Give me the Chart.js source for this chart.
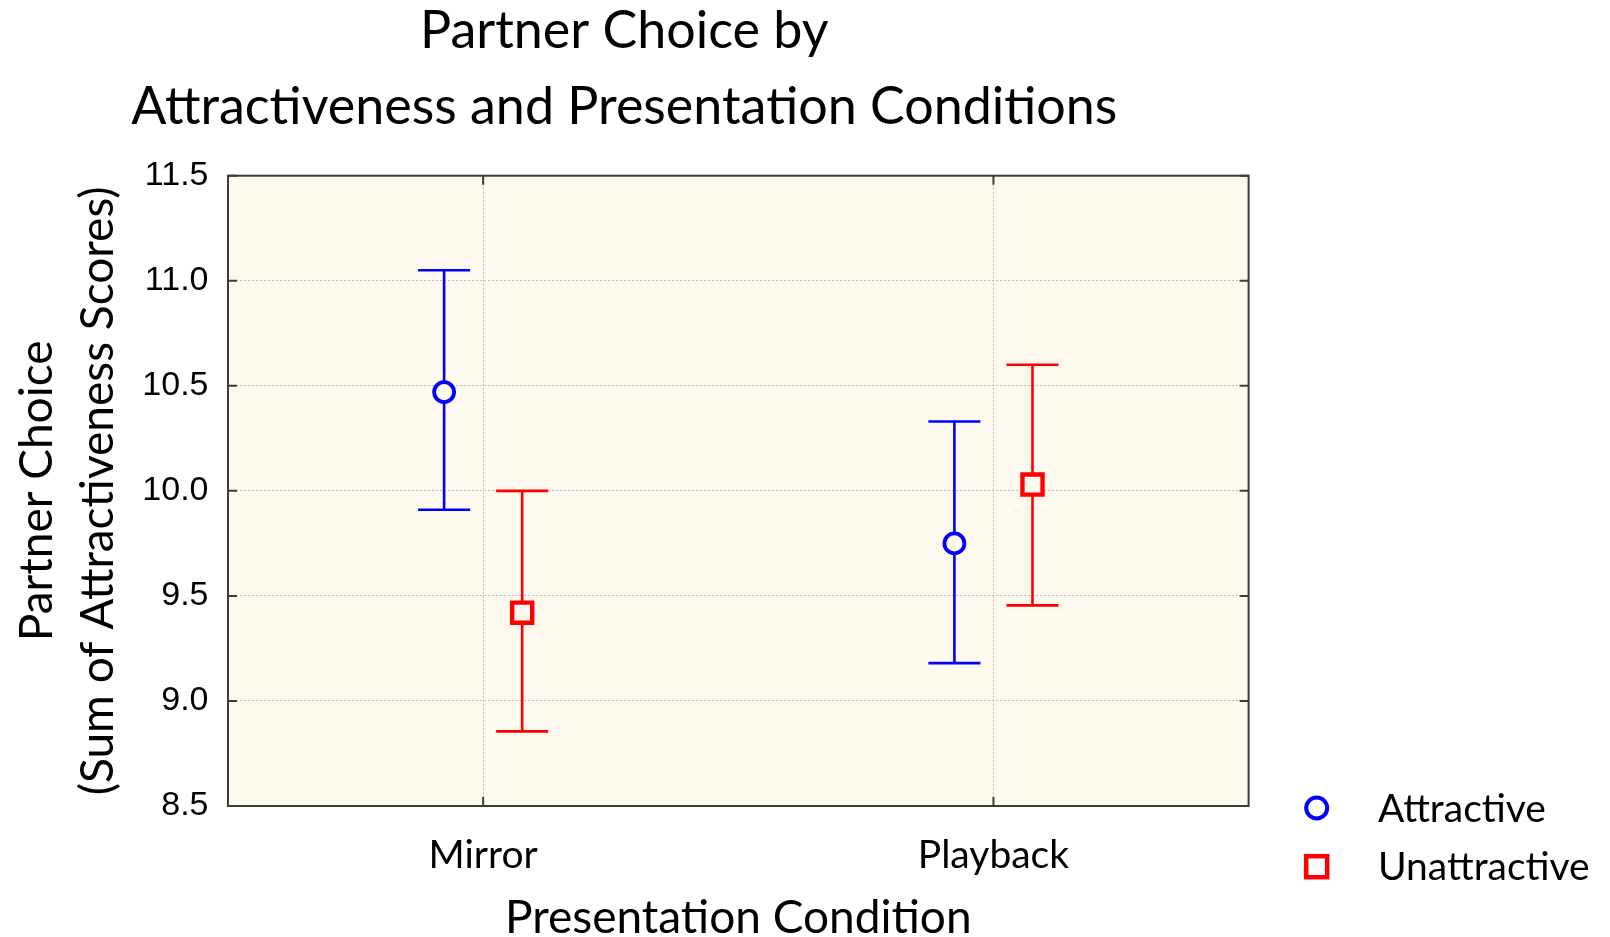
<!DOCTYPE html>
<html>
<head>
<meta charset="utf-8">
<script src="https://cdn.jsdelivr.net/npm/chart.js@4.4.1/dist/chart.umd.min.js"></script>
<style>
html,body{margin:0;padding:0;background:#ffffff;}
#wrap{width:1610px;height:937px;position:relative;}
</style>
</head>
<body>
<div id="wrap"><canvas id="c" width="1610" height="937"></canvas></div>
<script>
// ---- data ----
const categories = ['Mirror', 'Playback'];
const seriesNames = ['Attractive', 'Unattractive'];
const attractiveMean = [10.47, 9.75];
const attractiveLow = [9.91, 9.18];
const attractiveHigh = [11.05, 10.33];
const unattractiveMean = [9.42, 10.03];
const unattractiveLow = [8.855, 9.455];
const unattractiveHigh = [10.00, 10.60];
const yTickValues = [8.5, 9.0, 9.5, 10.0, 10.5, 11.0, 11.5];

// ---- styling ----
const BLUE = '#0000ff';
const RED = '#ff0000';
const PLOT_BG = '#fdf9ee';
const GRID = '#bdbdbd';
const FRAME = '#3c3c3c';
const GROUP_OFFSET = 0.0765;
const CAP_HALF = 0.051;
const TEXT_FONT = 'Lato';

function markerData(means, off) {
  return means.map((v, i) => ({x: i + off, y: v}));
}
function whiskerData(lows, highs, off) {
  const pts = [];
  lows.forEach((lo, i) => {
    const hi = highs[i];
    const cx = i + off;
    pts.push({x: cx, y: lo}, {x: cx, y: hi}, {x: cx, y: null});
    pts.push({x: cx - CAP_HALF, y: hi}, {x: cx + CAP_HALF, y: hi}, {x: cx, y: null});
    pts.push({x: cx - CAP_HALF, y: lo}, {x: cx + CAP_HALF, y: lo}, {x: cx, y: null});
  });
  return pts;
}

const datasets = [
  {
    label: seriesNames[0], data: markerData(attractiveMean, -GROUP_OFFSET), order: 0,
    pointStyle: 'circle', pointRadius: 10, borderWidth: 3.8,
    borderColor: BLUE, backgroundColor: PLOT_BG, pointBackgroundColor: PLOT_BG, showLine: false
  },
  {
    label: seriesNames[1], data: markerData(unattractiveMean, GROUP_OFFSET), order: 0,
    pointStyle: 'rect', pointRadius: 14.2, borderWidth: 4.4,
    borderColor: RED, backgroundColor: PLOT_BG, pointBackgroundColor: PLOT_BG, showLine: false
  },
  {
    label: seriesNames[0] + ' range', data: whiskerData(attractiveLow, attractiveHigh, -GROUP_OFFSET), order: 1,
    showLine: true, spanGaps: false, pointRadius: 0, borderColor: BLUE, borderWidth: 2.6, isWhisker: true
  },
  {
    label: seriesNames[1] + ' range', data: whiskerData(unattractiveLow, unattractiveHigh, GROUP_OFFSET), order: 1,
    showLine: true, spanGaps: false, pointRadius: 0, borderColor: RED, borderWidth: 2.6, isWhisker: true
  }
];

const plotBackground = {
  id: 'plotBackground',
  beforeDraw(chart) {
    const {ctx, chartArea: a} = chart;
    ctx.save();
    ctx.fillStyle = PLOT_BG;
    ctx.fillRect(a.left, a.top, a.right - a.left, a.bottom - a.top);
    ctx.restore();
  }
};

const frameAndTicks = {
  id: 'frameAndTicks',
  beforeDatasetsDraw(chart) {
    const {ctx, chartArea: a, scales} = chart;
    ctx.save();
    ctx.strokeStyle = FRAME;
    ctx.lineWidth = 2;
    ctx.strokeRect(a.left, a.top, a.right - a.left, a.bottom - a.top);
    ctx.beginPath();
    const L = 9;
    scales.y.ticks.forEach(t => {
      const py = scales.y.getPixelForValue(t.value);
      ctx.moveTo(a.left, py); ctx.lineTo(a.left + L, py);
      ctx.moveTo(a.right, py); ctx.lineTo(a.right - L, py);
    });
    scales.x.ticks.forEach(t => {
      const px = scales.x.getPixelForValue(t.value);
      ctx.moveTo(px, a.bottom); ctx.lineTo(px, a.bottom - L);
      ctx.moveTo(px, a.top); ctx.lineTo(px, a.top + L);
    });
    ctx.stroke();
    ctx.restore();
  }
};

const sideLegend = {
  id: 'sideLegend',
  afterDraw(chart) {
    const {ctx} = chart;
    const items = chart.data.datasets.filter(d => !d.isWhisker);
    const mx = 1316.7, tx = 1378;
    const ys = [808, 866.7];
    ctx.save();
    items.forEach((d, i) => {
      const y = ys[i];
      ctx.strokeStyle = d.borderColor;
      if (d.pointStyle === 'circle') {
        ctx.lineWidth = 4;
        ctx.beginPath();
        ctx.arc(mx, y, 10.5, 0, Math.PI * 2);
        ctx.stroke();
      } else {
        ctx.lineWidth = 4.5;
        ctx.strokeRect(mx - 10.5, y - 10.5, 21, 21);
      }
      ctx.fillStyle = '#000000';
      ctx.font = '39px ' + TEXT_FONT;
      ctx.textAlign = 'left';
      ctx.textBaseline = 'middle';
      ctx.fillText(d.label, tx, y + 1);
    });
    ctx.restore();
  }
};

new Chart(document.getElementById('c'), {
  type: 'scatter',
  data: {datasets},
  plugins: [plotBackground, frameAndTicks, sideLegend],
  options: {
    responsive: false,
    animation: false,
    events: [],
    layout: {padding: {left: 0, right: 361.4, top: 0, bottom: 0}},
    plugins: {
      legend: {display: false},
      tooltip: {enabled: false},
      title: {
        display: true,
        text: ['Partner Choice by', 'Attractiveness and Presentation Conditions'],
        color: '#000000',
        font: {family: TEXT_FONT, size: 52, weight: 'normal', lineHeight: '76px'},
        padding: {top: -7, bottom: 30.7}
      }
    },
    scales: {
      x: {
        type: 'linear',
        min: -0.5, max: 1.5,
        afterBuildTicks: s => { s.ticks = categories.map((c, i) => ({value: i})); },
        afterFit: s => { s.height = 131; },
        ticks: {
          callback: v => categories[v] !== undefined ? categories[v] : '',
          color: '#000000',
          font: {family: TEXT_FONT, size: 39},
          padding: 26,
          maxRotation: 0
        },
        grid: {color: GRID, lineWidth: 1, drawTicks: false},
        border: {display: false, dash: [2, 2]},
        title: {
          display: true, text: 'Presentation Condition', color: '#000000',
          font: {family: TEXT_FONT, size: 46, lineHeight: '37px'}, padding: 0
        }
      },
      y: {
        type: 'linear',
        min: 8.5, max: 11.5,
        afterBuildTicks: s => { s.ticks = yTickValues.map(v => ({value: v})); },
        afterFit: s => { s.width = 228; },
        ticks: {
          callback: v => Number(v).toFixed(1),
          color: '#000000',
          font: {family: 'Liberation Sans', size: 34},
          padding: 19.5
        },
        grid: {color: GRID, lineWidth: 1, drawTicks: false},
        border: {display: false, dash: [2, 2]},
        title: {
          display: true, text: ['Partner Choice', '(Sum of Attractiveness Scores)'], color: '#000000',
          font: {family: TEXT_FONT, size: 46, lineHeight: '61px'}, padding: {top: 6.5, bottom: 0}
        }
      }
    }
  }
});
</script>
</body>
</html>
